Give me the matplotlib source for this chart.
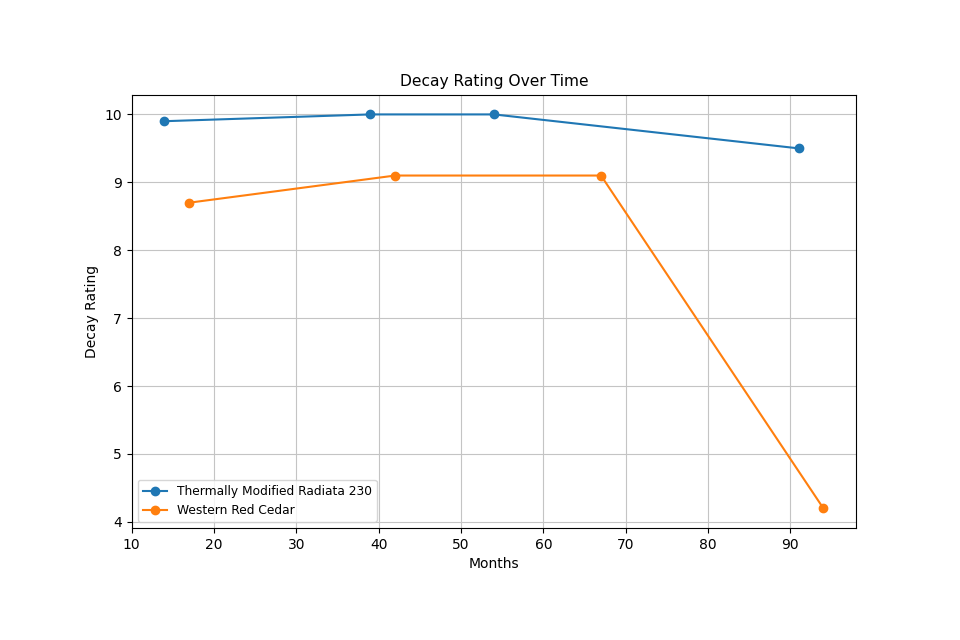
import matplotlib.pyplot as plt

months_tmr = [14, 39, 54, 91]
rating_tmr = [9.9, 10.0, 10.0, 9.5]
months_wrc = [17, 42, 67, 94]
rating_wrc = [8.7, 9.1, 9.1, 4.2]

fig = plt.figure(figsize=(9.6, 6.4), dpi=100)
ax = fig.add_axes([0.137, 0.175, 0.755, 0.677])

ax.plot(months_tmr, rating_tmr, marker='o', label='Thermally Modified Radiata 230')
ax.plot(months_wrc, rating_wrc, marker='o', label='Western Red Cedar')

ax.set_title('Decay Rating Over Time', fontsize=11.2)
ax.set_xlabel('Months', fontsize=10)
ax.set_ylabel('Decay Rating', fontsize=10)
ax.tick_params(labelsize=10)
ax.legend(loc='lower left', fontsize=8.8)
ax.grid(True, color='#c4c4c4')

fig.savefig('out.png', dpi=100)
